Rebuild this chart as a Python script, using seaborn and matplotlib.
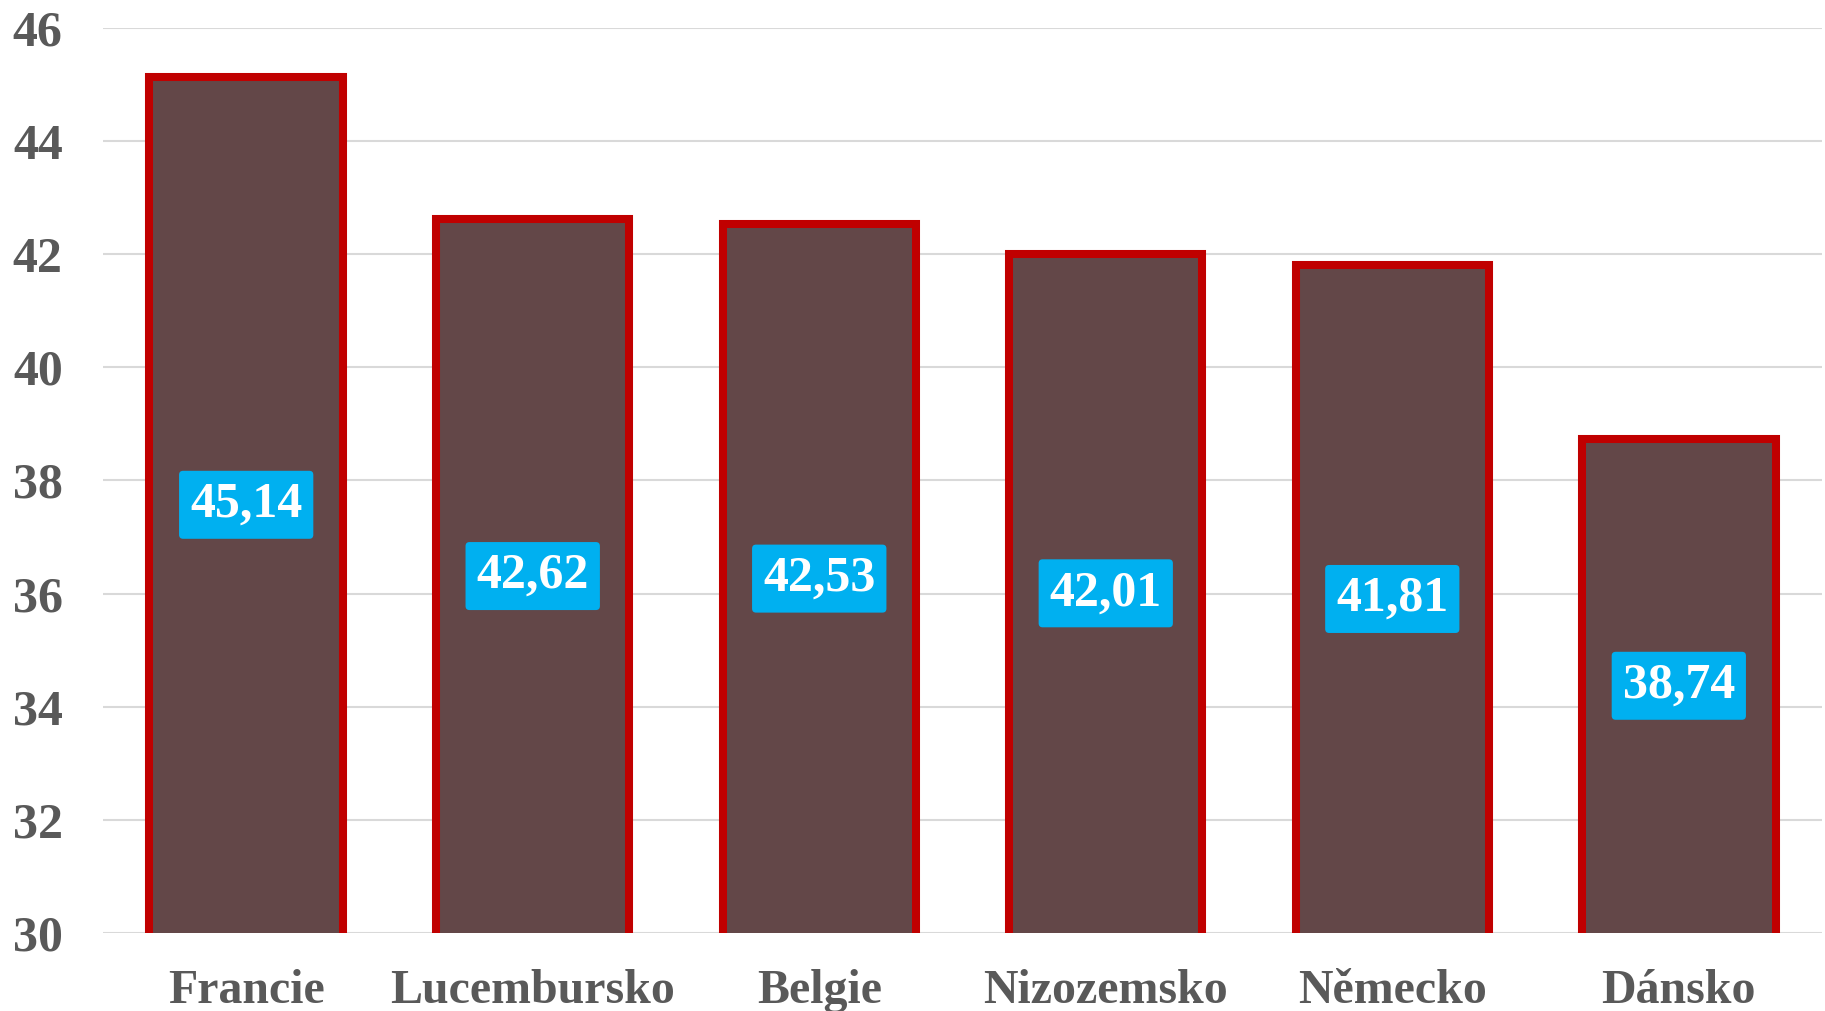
import numpy as np
import pandas as pd
import matplotlib
matplotlib.use("Agg")
import matplotlib.pyplot as plt
import seaborn as sns

countries = ["Francie", "Lucembursko", "Belgie", "Nizozemsko", "Německo", "Dánsko"]
values = [45.14, 42.62, 42.53, 42.01, 41.81, 38.74]
y_ticks = [30, 32, 34, 36, 38, 40, 42, 44, 46]

sns.set_theme(style="white")
plt.rcParams['font.family'] = ['Liberation Serif', 'DejaVu Serif']
plt.rcParams['font.weight'] = 'bold'

df = pd.DataFrame({"country": countries, "value": values})

fig = plt.figure(figsize=(18.25, 10.11), dpi=100)
ax = fig.add_axes([0.0564, 0.0772, 0.9420, 0.8951])

ymin, ymax = y_ticks[0], y_ticks[-1]
ax.set_ylim(ymin, ymax)
ax.set_yticks(y_ticks)
ax.yaxis.grid(True, color='#D9D9D9', linewidth=1.5)
ax.set_axisbelow(True)

sns.barplot(data=df, x="country", y="value", color="#634748", saturation=1,
            edgecolor="#C00000", linewidth=5.8, width=0.675, ax=ax)

ax.set_xlim(-0.5, len(countries) - 0.5)
for s in ax.spines.values():
    s.set_visible(False)
ax.set_xlabel("")
ax.set_ylabel("")
ax.tick_params(axis='y', length=0, pad=29, labelsize=36, labelcolor='#595959')
ax.tick_params(axis='x', length=0, pad=26, labelsize=34.5, labelcolor='#595959')
for lab in ax.get_xticklabels() + ax.get_yticklabels():
    lab.set_fontweight('bold')

# value labels in the middle of the visible part of each bar
for i, v in enumerate(values):
    ax.text(i, (v + ymin) / 2, f"{v:.2f}".replace(".", ","),
            ha='center', va='center', color='white', fontsize=36,
            fontweight='bold',
            bbox=dict(boxstyle='round,pad=0.22,rounding_size=0.08',
                      facecolor='#00B0F0', edgecolor='none'))

plt.savefig('out.png', dpi=100)
